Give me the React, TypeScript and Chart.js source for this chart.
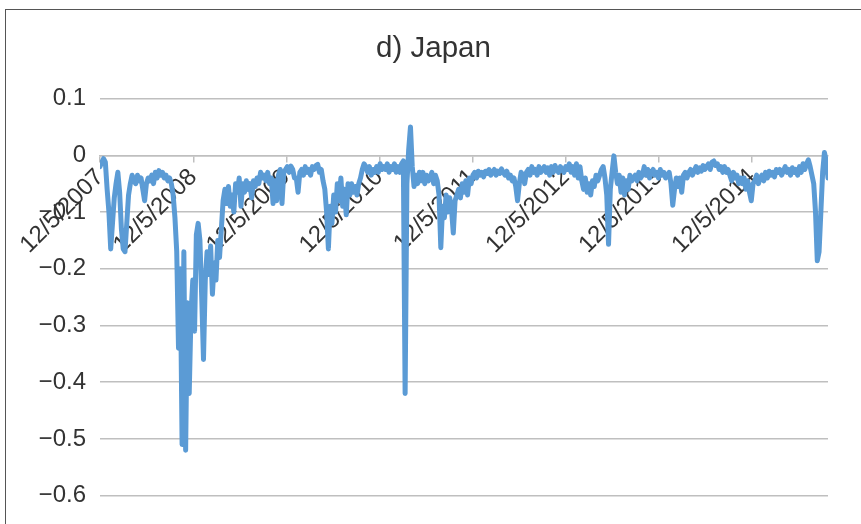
import React, { useEffect, useRef } from "react";
import { Chart, registerables } from "chart.js";

Chart.register(...registerables);

const FONT = "'Liberation Sans', Arial, Helvetica, sans-serif";
const TEXT_COLOR = "#333333";
const GRID_COLOR = "#bfbfbf";
const LINE_COLOR = "#5b9bd5";

const chartTitle = "d) Japan";
const firstDate = "12/5/2007";
const stepDays = 7; // weekly observations

const tickLabels = [
  "12/5/2007", "12/5/2008", "12/5/2009", "12/5/2010",
  "12/5/2011", "12/5/2012", "12/5/2013", "12/5/2014",
];

const yTicks = [0.1, 0, -0.1, -0.2, -0.3, -0.4, -0.5, -0.6];

// weekly values, 12/5/2007 onwards
const japanSeries = [
  -0.02, -0.012, -0.006, -0.012, -0.06, -0.10, -0.165, -0.12, -0.075, -0.05,
  -0.03, -0.065, -0.13, -0.165, -0.17, -0.12, -0.07, -0.05, -0.035, -0.045,
  -0.05, -0.035, -0.045, -0.04, -0.06, -0.08, -0.05, -0.04, -0.045, -0.035,
  -0.05, -0.03, -0.04, -0.027, -0.035, -0.03, -0.04, -0.035, -0.045, -0.04,
  -0.05, -0.07, -0.11, -0.17, -0.34, -0.2, -0.51, -0.17, -0.52, -0.26,
  -0.42, -0.28, -0.22, -0.31, -0.14, -0.12, -0.15, -0.25, -0.36, -0.22,
  -0.17, -0.21, -0.16, -0.245, -0.19, -0.22, -0.15, -0.18, -0.13, -0.08,
  -0.06, -0.085, -0.055, -0.09, -0.07, -0.1, -0.05, -0.065, -0.04, -0.09,
  -0.05, -0.065, -0.045, -0.06, -0.05, -0.075, -0.045, -0.055, -0.04, -0.05,
  -0.03, -0.04, -0.035, -0.045, -0.03, -0.05, -0.04, -0.085, -0.045, -0.08,
  -0.035, -0.025, -0.085, -0.03, -0.025, -0.02, -0.03, -0.019, -0.025, -0.04,
  -0.04, -0.065, -0.03, -0.025, -0.035, -0.02, -0.03, -0.025, -0.035, -0.02,
  -0.025, -0.018, -0.016, -0.03, -0.025, -0.045, -0.06, -0.1, -0.165, -0.09,
  -0.12, -0.07, -0.1, -0.05, -0.08, -0.04, -0.09, -0.06, -0.105, -0.05,
  -0.07, -0.05, -0.065, -0.055, -0.07, -0.05, -0.04, -0.025, -0.015, -0.02,
  -0.03, -0.02, -0.035, -0.025, -0.03, -0.02, -0.03, -0.015, -0.025, -0.02,
  -0.025, -0.015, -0.03, -0.02, -0.025, -0.015, -0.03, -0.02, -0.03, -0.015,
  -0.01, -0.42, -0.05, 0.01, 0.05, -0.02, -0.055, -0.035, -0.05, -0.03,
  -0.045, -0.03, -0.05, -0.035, -0.045, -0.04, -0.03, -0.05, -0.035, -0.045,
  -0.07, -0.163, -0.09, -0.11, -0.07, -0.1, -0.075, -0.095, -0.137, -0.08,
  -0.07, -0.06, -0.075, -0.05, -0.065, -0.045, -0.07, -0.04, -0.05, -0.035,
  -0.03, -0.04, -0.028, -0.035, -0.03, -0.038, -0.028, -0.032, -0.025, -0.035,
  -0.03, -0.025, -0.035, -0.028, -0.032, -0.024, -0.03, -0.035, -0.028, -0.04,
  -0.035, -0.045, -0.04, -0.055, -0.08, -0.05, -0.03, -0.035, -0.05, -0.03,
  -0.025, -0.035, -0.02, -0.03, -0.025, -0.035, -0.02, -0.03, -0.025, -0.02,
  -0.03, -0.022, -0.035, -0.02, -0.03, -0.018, -0.025, -0.03, -0.02, -0.025,
  -0.03, -0.02, -0.025, -0.015, -0.03, -0.02, -0.035, -0.015, -0.04, -0.02,
  -0.045, -0.06, -0.04, -0.065, -0.05, -0.07, -0.045, -0.055, -0.035, -0.045,
  -0.035, -0.025, -0.02, -0.04, -0.07, -0.157, -0.06, -0.03, -0.001, -0.03,
  -0.05, -0.035, -0.065, -0.04, -0.07, -0.045, -0.06, -0.035, -0.045, -0.04,
  -0.035, -0.045, -0.03, -0.04, -0.035, -0.02, -0.035, -0.025, -0.04, -0.03,
  -0.025, -0.035, -0.03, -0.04, -0.025, -0.035, -0.03, -0.04, -0.035, -0.03,
  -0.05, -0.088, -0.06, -0.04, -0.055, -0.04, -0.065, -0.035, -0.03, -0.04,
  -0.03, -0.025, -0.035, -0.028, -0.02, -0.03, -0.022, -0.028, -0.018, -0.025,
  -0.02, -0.015, -0.025, -0.012, -0.01, -0.018, -0.015, -0.025, -0.02, -0.03,
  -0.02, -0.03, -0.025, -0.035, -0.045, -0.03, -0.04, -0.035, -0.05, -0.04,
  -0.05, -0.04, -0.06, -0.045, -0.065, -0.08, -0.05, -0.045, -0.035, -0.05,
  -0.04, -0.035, -0.045, -0.03, -0.04, -0.028, -0.035, -0.03, -0.038, -0.025,
  -0.03, -0.025, -0.035, -0.028, -0.02, -0.03, -0.025, -0.035, -0.022, -0.03,
  -0.025, -0.035, -0.02, -0.03, -0.015, -0.025, -0.015, -0.008, -0.02, -0.035,
  -0.05, -0.1, -0.186, -0.17, -0.1, -0.03, 0.005, -0.01, -0.04,
];

function toUTC(label: string): number {
  const [m, d, y] = label.split("/").map(Number);
  return Date.UTC(y, m - 1, d);
}

const DAY = 86400000;
const tickDays = tickLabels.map((l) => Math.round((toUTC(l) - toUTC(firstDate)) / DAY));

function fmtY(v: number): string {
  if (Math.abs(v) < 1e-9) return "0";
  const s = Math.abs(v).toFixed(1);
  return v < 0 ? "\u2212" + s : s;
}

export default function App() {
  const canvasRef = useRef<HTMLCanvasElement | null>(null);

  useEffect(() => {
    const canvas = canvasRef.current;
    if (!canvas) return;
    const points = japanSeries.map((v, i) => ({ x: i * stepDays, y: v }));
    const lastDay = (japanSeries.length - 1) * stepDays;

    const chart = new Chart(canvas, {
      type: "line",
      data: {
        datasets: [
          {
            label: "Japan",
            data: points,
            borderColor: LINE_COLOR,
            backgroundColor: LINE_COLOR,
            borderWidth: 5,
            pointRadius: 0,
            tension: 0,
            fill: false,
            borderJoinStyle: "round",
            borderCapStyle: "round",
          },
        ],
      },
      options: {
        animation: false,
        responsive: false,
        devicePixelRatio: 1,
        layout: { padding: { left: 39, right: 33, top: 0, bottom: 23 } },
        plugins: {
          legend: { display: false },
          tooltip: { enabled: false },
          title: {
            display: true,
            text: chartTitle,
            color: TEXT_COLOR,
            font: { family: FONT, size: 29.5, weight: "normal", lineHeight: 1.2 },
            padding: { top: 31.5, bottom: 31.7 },
          },
        },
        scales: {
          x: {
            type: "linear",
            min: 0,
            max: lastDay,
            position: { y: 0 },
            afterBuildTicks: (s: any) => {
              s.ticks = tickDays.map((v) => ({ value: v }));
            },
            afterFit: (s: any) => {
              s.height = 0;
            },
            ticks: {
              autoSkip: false,
              minRotation: 45,
              maxRotation: 45,
              padding: 2,
              color: TEXT_COLOR,
              font: { family: FONT, size: 24 },
              callback: (_v: any, i: number) => tickLabels[i],
            },
            grid: {
              display: true,
              drawOnChartArea: false,
              drawTicks: true,
              tickLength: 6,
              color: GRID_COLOR,
              lineWidth: 1.5,
            },
            border: { display: true, color: GRID_COLOR, width: 1.5 },
          },
          y: {
            type: "linear",
            min: -0.6,
            max: 0.1,
            afterBuildTicks: (s: any) => {
              s.ticks = yTicks.map((v) => ({ value: v }));
            },
            afterFit: (s: any) => {
              s.width = 61;
            },
            ticks: {
              padding: 14,
              color: TEXT_COLOR,
              font: { family: FONT, size: 24 },
              callback: (v: any) => fmtY(Number(v)),
            },
            grid: { color: GRID_COLOR, lineWidth: 1.5, drawTicks: false },
            border: { display: false },
          },
        },
      },
    } as any);

    return () => chart.destroy();
  }, []);

  return (
    <div
      style={{
        position: "fixed",
        left: 0,
        top: 0,
        width: 861,
        height: 524,
        overflow: "hidden",
        background: "#ffffff",
      }}
    >
      <div
        style={{
          position: "absolute",
          left: 5,
          top: 9,
          width: 900,
          height: 600,
          border: "1.5px solid #555555",
          background: "#ffffff",
        }}
      />
      <canvas
        ref={canvasRef}
        width={861}
        height={524}
        style={{ position: "absolute", left: 0, top: 0, width: 861, height: 524 }}
      />
    </div>
  );
}
